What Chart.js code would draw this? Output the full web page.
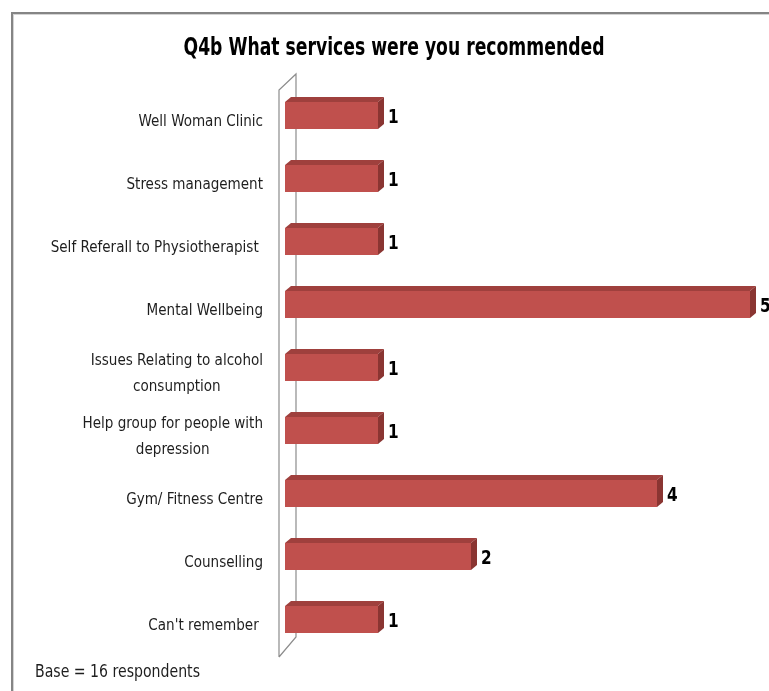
<!DOCTYPE html>
<html>
<head>
<meta charset="utf-8">
<title>Q4b What services were you recommended</title>
<script src="https://cdn.jsdelivr.net/npm/chart.js@4/dist/chart.umd.min.js"></script>
<style>
    html, body { margin: 0; padding: 0; background: #fff; }
    #frame {
        position: absolute; left: 11px; top: 12px; width: 800px; height: 700px;
        border-top: 2px solid #858585; border-left: 2px solid #858585;
        box-shadow: inset 1px 1px 0 #d4d4d4;
    }
    #wrap { position: absolute; left: 0; top: 0; width: 769px; height: 691px; }
</style>
</head>
<body>
<div id="frame"></div>
<div id="wrap"><canvas id="chart" width="769" height="691"></canvas></div>
<script>
// values
var categories = [
    ['Well Woman Clinic'],
    ['Stress management'],
    ['Self Referall to Physiotherapist '],
    ['Mental Wellbeing'],
    ['Issues Relating to alcohol', 'consumption'],
    ['Help group for people with', 'depression'],
    ['Gym/ Fitness Centre'],
    ['Counselling'],
    ["Can't remember "]
];
var counts = [1, 1, 1, 5, 1, 1, 4, 2, 1];
var axisMin = 0;
var axisMax = 5;

var titleText = 'Q4b What services were you recommended';
var baseText = 'Base = 16 respondents';

var FONT = '"Liberation Sans Narrow", "DejaVu Sans Condensed", "Roboto Condensed", "Liberation Sans", sans-serif';
var FRONT = '#c0504d';
var TOP = '#9f403d';
var SIDE = '#8a3532';
var DEPTH_X = 6;
var DEPTH_Y = 5;
var NARROW = 0.94; // the original font (Calibri) is narrower than anything installed

function narrowText(ctx, text, x, y, squeeze) {
    var w = ctx.measureText(text).width;
    ctx.fillText(text, x, y, w * squeeze);
}

// fake 3D: wall, bar top/side faces, labels
var threeD = {
    id: 'threeD',
    beforeDatasetsDraw: function (chart) {
        var ctx = chart.ctx;
        var a = chart.chartArea;
        var fx = a.left - 6, ft = a.top + 6, fb = a.bottom + 6;
        var bx = a.left + 11, bt = a.top - 10, bb = a.bottom - 14;
        ctx.save();
        ctx.strokeStyle = '#8c8c8c';
        ctx.lineWidth = 1.2;
        ctx.beginPath();
        ctx.moveTo(fx, fb); ctx.lineTo(fx, ft); ctx.lineTo(bx, bt); ctx.lineTo(bx, bb); ctx.lineTo(fx, fb);
        ctx.stroke();
        ctx.restore();
    },
    afterDatasetsDraw: function (chart) {
        var ctx = chart.ctx;
        var meta = chart.getDatasetMeta(0);
        ctx.save();
        meta.data.forEach(function (bar, i) {
            var top = bar.y - bar.height / 2;
            var bottom = bar.y + bar.height / 2;
            ctx.fillStyle = TOP;
            ctx.beginPath();
            ctx.moveTo(bar.base, top);
            ctx.lineTo(bar.x, top);
            ctx.lineTo(bar.x + DEPTH_X, top - DEPTH_Y);
            ctx.lineTo(bar.base + DEPTH_X, top - DEPTH_Y);
            ctx.closePath();
            ctx.fill();
            ctx.fillStyle = SIDE;
            ctx.beginPath();
            ctx.moveTo(bar.x, top);
            ctx.lineTo(bar.x + DEPTH_X, top - DEPTH_Y);
            ctx.lineTo(bar.x + DEPTH_X, bottom - DEPTH_Y);
            ctx.lineTo(bar.x, bottom);
            ctx.closePath();
            ctx.fill();

            ctx.fillStyle = '#000';
            ctx.font = 'bold 20px ' + FONT;
            ctx.textAlign = 'left';
            ctx.textBaseline = 'middle';
            narrowText(ctx, String(counts[i]), bar.x + DEPTH_X + 4, bar.y + 2, 0.85);
        });
        ctx.restore();
    },
    afterDraw: function (chart) {
        var ctx = chart.ctx;
        var yScale = chart.scales.y;
        ctx.save();
        ctx.fillStyle = '#1e1e1e';
        ctx.font = '16px ' + FONT;
        ctx.textBaseline = 'middle';
        ctx.textAlign = 'center';
        categories.forEach(function (lines, i) {
            var cy = yScale.getPixelForValue(i) + 6;
            var w = 0;
            lines.forEach(function (l) { w = Math.max(w, ctx.measureText(l).width * NARROW); });
            var cx = 263 - w / 2;
            var lh = 26;
            var y0 = cy - (lines.length - 1) * lh / 2;
            lines.forEach(function (l, k) { narrowText(ctx, l, cx, y0 + k * lh, NARROW); });
        });

        ctx.textAlign = 'left';
        ctx.font = '18px ' + FONT;
        ctx.fillText(baseText, 35, 672, 165);

        ctx.fillStyle = '#000';
        ctx.textAlign = 'center';
        ctx.font = 'bold 24px ' + FONT;
        ctx.fillText(titleText, 394, 49, 421);
        ctx.restore();
    }
};

new Chart(document.getElementById('chart'), {
    type: 'bar',
    data: {
        labels: categories,
        datasets: [{
            data: counts,
            backgroundColor: FRONT,
            borderWidth: 0,
            barPercentage: 0.43,
            categoryPercentage: 1
        }]
    },
    options: {
        indexAxis: 'y',
        responsive: false,
        animation: false,
        layout: { padding: { left: 285, right: 19, top: 84, bottom: 40 } },
        plugins: { legend: { display: false }, title: { display: false }, tooltip: { enabled: false } },
        scales: {
            x: { min: axisMin, max: axisMax, display: false },
            y: { display: false }
        }
    },
    plugins: [threeD]
});
</script>
</body>
</html>
